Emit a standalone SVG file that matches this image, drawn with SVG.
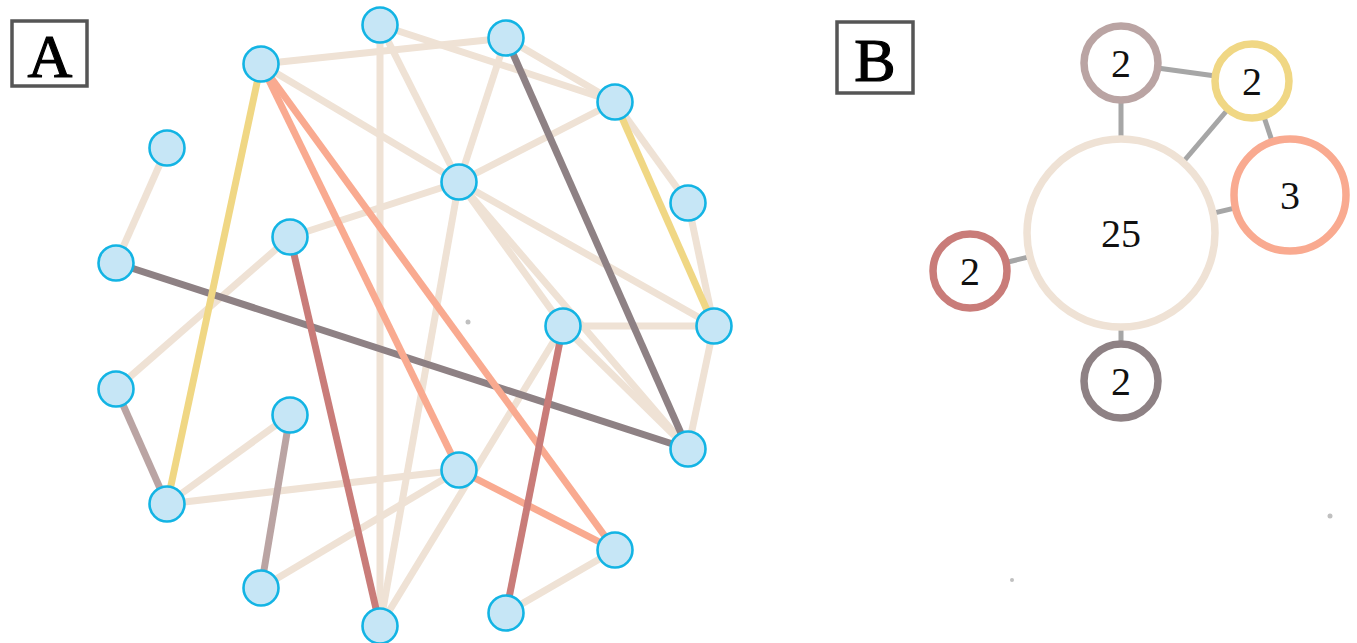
<svg xmlns="http://www.w3.org/2000/svg" width="1357" height="643" viewBox="0 0 1357 643">
<style>
.e{stroke-width:7;stroke-linecap:butt;fill:none}
.bg{stroke:#EFE2D5}
.sa{stroke:#F9AA90}
.ye{stroke:#F0D784}
.dg{stroke:#8E8184}
.dr{stroke:#C97C79}
.mv{stroke:#BAA4A3}
.n{fill:#C6E6F6;stroke:#13B4E4;stroke-width:2.6}
.lbl{font-family:"Liberation Serif","DejaVu Serif",serif;fill:#000;stroke:#000;stroke-width:1.2}
.box{fill:#fff;stroke:#555;stroke-width:3.5}
.bc{fill:#fff;stroke-width:7.5}
.bl{stroke:#A6A6A6;stroke-width:5}
.num{font-family:"Liberation Serif","DejaVu Serif",serif;font-size:40px;fill:#111;text-anchor:middle}
.dot{fill:#C0C0C0}
</style>
<rect width="1357" height="643" fill="#fff"/>
<g id="panel-A-label">
<rect class="box" x="12" y="21" width="75" height="65"/>
<text class="lbl" x="50" y="77" font-size="62" text-anchor="middle">A</text>
</g>
<g id="panel-B-label">
<rect class="box" x="837" y="22" width="76" height="71"/>
<text class="lbl" x="875" y="81" font-size="62" text-anchor="middle">B</text>
</g>
<g id="connectors-A">
<g class="e bg">
<line x1="261" y1="64" x2="506" y2="38"/>
<line x1="380" y1="25" x2="615" y2="102"/>
<line x1="380" y1="25" x2="380" y2="626"/>
<line x1="380" y1="25" x2="459" y2="182"/>
<line x1="261" y1="64" x2="459" y2="182"/>
<line x1="167" y1="148" x2="116" y2="263"/>
<line x1="290" y1="237" x2="459" y2="182"/>
<line x1="459" y1="182" x2="380" y2="626"/>
<line x1="506" y1="38" x2="459" y2="182"/>
<line x1="615" y1="102" x2="459" y2="182"/>
<line x1="615" y1="102" x2="688" y2="203"/>
<line x1="688" y1="203" x2="714" y2="326"/>
<line x1="459" y1="182" x2="714" y2="326"/>
<line x1="459" y1="182" x2="563" y2="326"/>
<line x1="459" y1="182" x2="688" y2="449"/>
<line x1="563" y1="326" x2="714" y2="326"/>
<line x1="563" y1="326" x2="688" y2="449"/>
<line x1="714" y1="326" x2="688" y2="449"/>
<line x1="615" y1="550" x2="506" y2="613"/>
<line x1="459" y1="470" x2="261" y2="588"/>
<line x1="459" y1="470" x2="167" y2="504"/>
<line x1="167" y1="504" x2="290" y2="415"/>
<line x1="116" y1="389" x2="290" y2="237"/>
<line x1="380" y1="626" x2="563" y2="326"/>
<line x1="506" y1="38" x2="615" y2="102"/>
</g>
<line class="e dg" x1="506" y1="38" x2="688" y2="449"/>
<line class="e dg" x1="116" y1="263" x2="688" y2="449"/>
<line class="e ye" x1="261" y1="64" x2="167" y2="504"/>
<line class="e ye" x1="615" y1="102" x2="714" y2="326"/>
<line class="e sa" x1="261" y1="64" x2="459" y2="470"/>
<line class="e sa" x1="261" y1="64" x2="615" y2="550"/>
<line class="e sa" x1="459" y1="470" x2="615" y2="550"/>
<line class="e dr" x1="290" y1="237" x2="380" y2="626"/>
<line class="e dr" x1="563" y1="326" x2="506" y2="613"/>
<line class="e mv" x1="116" y1="389" x2="167" y2="504"/>
<line class="e mv" x1="290" y1="415" x2="261" y2="588"/>
</g>
<g id="nodes-A">
<circle id="a1" class="n" cx="380" cy="25" r="17.5"/>
<circle id="a2" class="n" cx="506" cy="38" r="17.5"/>
<circle id="a3" class="n" cx="261" cy="64" r="17.5"/>
<circle id="a4" class="n" cx="615" cy="102" r="17.5"/>
<circle id="a5" class="n" cx="167" cy="148" r="17.5"/>
<circle id="a6" class="n" cx="459" cy="182" r="17.5"/>
<circle id="a7" class="n" cx="688" cy="203" r="17.5"/>
<circle id="a8" class="n" cx="290" cy="237" r="17.5"/>
<circle id="a9" class="n" cx="116" cy="263" r="17.5"/>
<circle id="a10" class="n" cx="563" cy="326" r="17.5"/>
<circle id="a11" class="n" cx="714" cy="326" r="17.5"/>
<circle id="a12" class="n" cx="116" cy="389" r="17.5"/>
<circle id="a13" class="n" cx="290" cy="415" r="17.5"/>
<circle id="a14" class="n" cx="688" cy="449" r="17.5"/>
<circle id="a15" class="n" cx="459" cy="470" r="17.5"/>
<circle id="a16" class="n" cx="167" cy="504" r="17.5"/>
<circle id="a17" class="n" cx="615" cy="550" r="17.5"/>
<circle id="a18" class="n" cx="261" cy="588" r="17.5"/>
<circle id="a19" class="n" cx="506" cy="613" r="17.5"/>
<circle id="a20" class="n" cx="380" cy="626" r="17.5"/>
</g>
<g id="connectors-B" class="bl">
<line x1="1121" y1="63" x2="1121" y2="235"/>
<line x1="1121" y1="63" x2="1252" y2="81"/>
<line x1="1252" y1="81" x2="1121" y2="235"/>
<line x1="1252" y1="81" x2="1290" y2="195"/>
<line x1="1290" y1="195" x2="1121" y2="235"/>
<line x1="970" y1="271" x2="1121" y2="235"/>
<line x1="1121" y1="381" x2="1121" y2="235"/>
</g>
<g id="b-big">
<circle class="bc" cx="1121" cy="233" r="94" stroke="#EFE2D5"/>
<text class="num" x="1121" y="247">25</text>
</g>
<g id="b-mauve">
<circle class="bc" cx="1121" cy="63" r="37" stroke="#BAA4A3"/>
<text class="num" x="1121" y="77">2</text>
</g>
<g id="b-yellow">
<circle class="bc" cx="1252" cy="81" r="37" stroke="#F0D784"/>
<text class="num" x="1252" y="95">2</text>
</g>
<g id="b-salmon">
<circle class="bc" cx="1290" cy="195" r="56" stroke="#F9AA90"/>
<text class="num" x="1290" y="209">3</text>
</g>
<g id="b-darkred">
<circle class="bc" cx="970" cy="271" r="37" stroke="#C97C79"/>
<text class="num" x="970" y="285">2</text>
</g>
<g id="b-darkgray">
<circle class="bc" cx="1121" cy="381" r="37" stroke="#8E8184"/>
<text class="num" x="1121" y="395">2</text>
</g>
<circle class="dot" cx="468" cy="322" r="2.5"/>
<circle class="dot" cx="1330" cy="516" r="2.5"/>
<circle class="dot" cx="1012" cy="580" r="2"/>
</svg>
